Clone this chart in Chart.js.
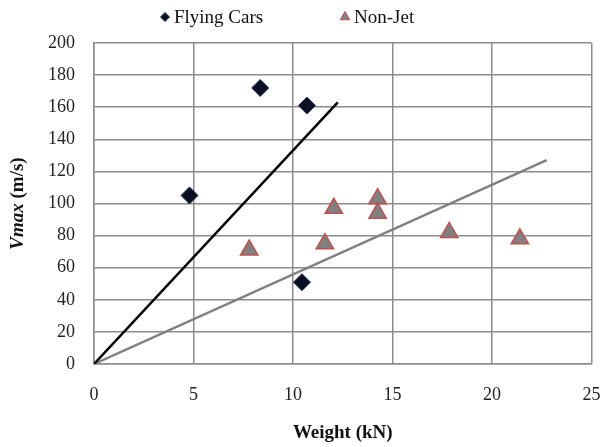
<!DOCTYPE html>
<html>
<head>
<meta charset="utf-8">
<script src="https://cdn.jsdelivr.net/npm/chart.js@4.4.1/dist/chart.umd.min.js"></script>
<style>
  html, body { margin: 0; padding: 0; background: #fff; }
  #wrap { width: 603px; height: 447px; }
</style>
</head>
<body>
<div id="wrap"><canvas id="chart" width="603" height="447"></canvas></div>
<script>
// values
const flyingCarsWeight = [4.8, 8.35, 10.7, 10.45];
const flyingCarsVmax = [105, 172, 161, 51];

const nonJetWeight = [7.8, 11.6, 12.05, 14.25, 14.25, 17.85, 21.4];
const nonJetVmax = [71, 75, 97, 103, 94, 82, 78];

// the two trend lines, start and end points
const blackLineWeight = [0, 12.25];
const blackLineVmax = [0, 163];
const grayLineWeight = [0, 22.75];
const grayLineVmax = [0, 127];

const xTicks = [0, 5, 10, 15, 20, 25];
const yTicks = [0, 20, 40, 60, 80, 100, 120, 140, 160, 180, 200];

const seriesNames = ["Flying Cars", "Non-Jet"];

const toPoints = (xs, ys) => xs.map((x, i) => ({ x: x, y: ys[i] }));

const FONT = "'Liberation Serif', 'Times New Roman', serif";

// legend drawn by hand so the two items sit where they do in the original
const legendPlugin = {
    id: "handLegend",
    afterDraw(chart) {
        const ctx = chart.ctx;
        const items = [
            { ds: chart.data.datasets[0], x: 165, text: seriesNames[0], r: 4.5 },
            { ds: chart.data.datasets[1], x: 345, text: seriesNames[1], r: 5.5 },
        ];
        ctx.save();
        items.forEach((it) => {
            ctx.fillStyle = it.ds.backgroundColor;
            ctx.strokeStyle = it.ds.borderColor;
            ctx.lineWidth = 1;
            Chart.helpers.drawPoint(ctx, { pointStyle: it.ds.pointStyle, radius: it.r, borderWidth: 1, rotation: 0 }, it.x, 17);
            ctx.fillStyle = "#111";
            ctx.font = "19px " + FONT;
            ctx.textBaseline = "middle";
            ctx.textAlign = "left";
            ctx.fillText(it.text, it.x + 9, 18);
        });
        ctx.restore();
    },
};

// y title: "Vmax" bold italic, "(m/s)" bold
const yTitlePlugin = {
    id: "yTitle",
    afterDraw(chart) {
        const ctx = chart.ctx;
        const area = chart.chartArea;
        const a = "Vmax";
        const b = " (m/s)";
        const fa = "italic bold 19px " + FONT;
        const fb = "bold 19px " + FONT;
        ctx.save();
        ctx.font = fa;
        const wa = ctx.measureText(a).width;
        ctx.font = fb;
        const wb = ctx.measureText(b).width;
        const cy = (area.top + area.bottom) / 2;
        ctx.translate(18, cy);
        ctx.rotate(-Math.PI / 2);
        ctx.fillStyle = "#111";
        ctx.textBaseline = "middle";
        ctx.textAlign = "left";
        const start = -(wa + wb) / 2;
        ctx.font = fa;
        ctx.fillText(a, start, 0);
        ctx.font = fb;
        ctx.fillText(b, start + wa, 0);
        ctx.restore();
    },
};

const gridColor = "#8c8c8c";

new Chart(document.getElementById("chart"), {
    type: "scatter",
    data: {
        datasets: [
            {
                label: seriesNames[0],
                data: toPoints(flyingCarsWeight, flyingCarsVmax),
                pointStyle: "rectRot",
                pointRadius: 8.5,
                pointHoverRadius: 8.5,
                backgroundColor: "#0a0f24",
                borderColor: "#1f3050",
                borderWidth: 1,
            },
            {
                label: seriesNames[1],
                data: toPoints(nonJetWeight, nonJetVmax),
                pointStyle: "triangle",
                pointRadius: 10,
                pointHoverRadius: 10,
                backgroundColor: "#808080",
                borderColor: "#c0504d",
                borderWidth: 1.5,
            },
            {
                label: "black line",
                type: "line",
                data: toPoints(blackLineWeight, blackLineVmax),
                borderColor: "#000",
                borderWidth: 2.5,
                pointRadius: 0,
                fill: false,
            },
            {
                label: "gray line",
                type: "line",
                data: toPoints(grayLineWeight, grayLineVmax),
                borderColor: "#808080",
                borderWidth: 2.5,
                pointRadius: 0,
                fill: false,
            },
        ],
    },
    options: {
        responsive: false,
        animation: false,
        layout: { padding: { top: 43, right: 6, left: 0, bottom: 0 } },
        plugins: {
            legend: { display: false },
            tooltip: { enabled: false },
        },
        scales: {
            x: {
                type: "linear",
                min: 0,
                max: 25,
                afterBuildTicks: (scale) => {
                    scale.ticks = xTicks.map((v) => ({ value: v }));
                },
                afterFit: (scale) => {
                    scale.height = 83;
                    scale.paddingLeft = 0;
                    scale.paddingRight = 0;
                },
                grid: { color: gridColor, lineWidth: 1.5, drawTicks: false },
                border: { color: gridColor, width: 1.5 },
                ticks: {
                    padding: 20,
                    maxRotation: 0,
                    color: "#222",
                    font: { family: FONT, size: 18 },
                },
                title: {
                    display: true,
                    text: "Weight (kN)",
                    color: "#111",
                    font: { family: FONT, size: 19, weight: "bold" },
                    padding: { top: 16, bottom: 3 },
                },
            },
            y: {
                type: "linear",
                min: 0,
                max: 200,
                afterBuildTicks: (scale) => {
                    scale.ticks = yTicks.map((v) => ({ value: v }));
                },
                afterFit: (scale) => {
                    scale.width = 94;
                },
                grid: { color: gridColor, lineWidth: 1.5, drawTicks: false },
                border: { color: gridColor, width: 1.5 },
                ticks: {
                    padding: 19,
                    color: "#222",
                    font: { family: FONT, size: 18 },
                },
            },
        },
    },
    plugins: [legendPlugin, yTitlePlugin],
});
</script>
</body>
</html>
